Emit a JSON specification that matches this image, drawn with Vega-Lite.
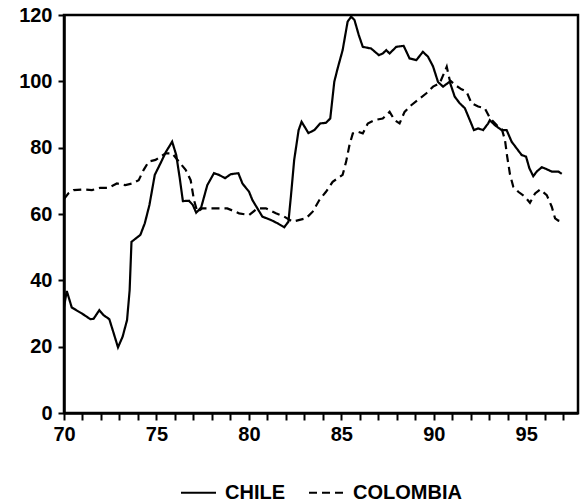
{
  "$schema": "https://vega.github.io/schema/vega-lite/v6.json",
  "description": "Chile and Colombia index, 1970-1997",
  "autosize": "none",
  "padding": {"left": 64, "top": 15, "right": 2, "bottom": 89},
  "width": 514,
  "height": 398,
  "data": {
    "values": [
      {"year": 70.0, "country": "CHILE", "value": 32},
      {"year": 70.15, "country": "CHILE", "value": 36.8},
      {"year": 70.42, "country": "CHILE", "value": 31.8},
      {"year": 70.97, "country": "CHILE", "value": 30},
      {"year": 71.42, "country": "CHILE", "value": 28.3},
      {"year": 71.6, "country": "CHILE", "value": 28.4},
      {"year": 71.91, "country": "CHILE", "value": 31},
      {"year": 72.14, "country": "CHILE", "value": 29.5},
      {"year": 72.45, "country": "CHILE", "value": 28.3},
      {"year": 72.69, "country": "CHILE", "value": 24},
      {"year": 72.92, "country": "CHILE", "value": 19.8},
      {"year": 73.17, "country": "CHILE", "value": 23},
      {"year": 73.41, "country": "CHILE", "value": 28},
      {"year": 73.55, "country": "CHILE", "value": 37},
      {"year": 73.65, "country": "CHILE", "value": 51.6},
      {"year": 73.9, "country": "CHILE", "value": 52.7},
      {"year": 74.13, "country": "CHILE", "value": 53.7},
      {"year": 74.37, "country": "CHILE", "value": 57.2},
      {"year": 74.62, "country": "CHILE", "value": 62.7},
      {"year": 74.91, "country": "CHILE", "value": 71.8},
      {"year": 75.22, "country": "CHILE", "value": 75.3},
      {"year": 75.52, "country": "CHILE", "value": 78.8},
      {"year": 75.85, "country": "CHILE", "value": 81.8},
      {"year": 76.07, "country": "CHILE", "value": 77.8},
      {"year": 76.25, "country": "CHILE", "value": 71.2},
      {"year": 76.43, "country": "CHILE", "value": 63.9},
      {"year": 76.76, "country": "CHILE", "value": 64},
      {"year": 76.97, "country": "CHILE", "value": 62.7},
      {"year": 77.15, "country": "CHILE", "value": 60.4},
      {"year": 77.42, "country": "CHILE", "value": 62},
      {"year": 77.75, "country": "CHILE", "value": 68.7},
      {"year": 78.11, "country": "CHILE", "value": 72.3},
      {"year": 78.38, "country": "CHILE", "value": 71.8},
      {"year": 78.71, "country": "CHILE", "value": 70.8},
      {"year": 79.02, "country": "CHILE", "value": 72},
      {"year": 79.43, "country": "CHILE", "value": 72.3},
      {"year": 79.65, "country": "CHILE", "value": 69.2},
      {"year": 80.01, "country": "CHILE", "value": 66.7},
      {"year": 80.19, "country": "CHILE", "value": 64.2},
      {"year": 80.46, "country": "CHILE", "value": 61.7},
      {"year": 80.73, "country": "CHILE", "value": 59.2},
      {"year": 81.19, "country": "CHILE", "value": 58.2},
      {"year": 81.55, "country": "CHILE", "value": 57.2},
      {"year": 81.91, "country": "CHILE", "value": 56},
      {"year": 82.14, "country": "CHILE", "value": 57.7},
      {"year": 82.27, "country": "CHILE", "value": 65.2},
      {"year": 82.45, "country": "CHILE", "value": 76.3},
      {"year": 82.69, "country": "CHILE", "value": 85.3},
      {"year": 82.85, "country": "CHILE", "value": 87.8},
      {"year": 83.22, "country": "CHILE", "value": 84.4},
      {"year": 83.54, "country": "CHILE", "value": 85.3},
      {"year": 83.85, "country": "CHILE", "value": 87.3},
      {"year": 84.17, "country": "CHILE", "value": 87.5},
      {"year": 84.4, "country": "CHILE", "value": 88.8},
      {"year": 84.62, "country": "CHILE", "value": 99.9},
      {"year": 84.8, "country": "CHILE", "value": 103.9},
      {"year": 85.07, "country": "CHILE", "value": 109.4},
      {"year": 85.34, "country": "CHILE", "value": 118},
      {"year": 85.53, "country": "CHILE", "value": 119.5},
      {"year": 85.71, "country": "CHILE", "value": 118.5},
      {"year": 85.94, "country": "CHILE", "value": 114},
      {"year": 86.16, "country": "CHILE", "value": 110.4},
      {"year": 86.61, "country": "CHILE", "value": 109.9},
      {"year": 87.03, "country": "CHILE", "value": 107.9},
      {"year": 87.24, "country": "CHILE", "value": 108.4},
      {"year": 87.43, "country": "CHILE", "value": 109.4},
      {"year": 87.61, "country": "CHILE", "value": 108.4},
      {"year": 87.97, "country": "CHILE", "value": 110.4},
      {"year": 88.37, "country": "CHILE", "value": 110.7},
      {"year": 88.69, "country": "CHILE", "value": 106.9},
      {"year": 89.06, "country": "CHILE", "value": 106.4},
      {"year": 89.41, "country": "CHILE", "value": 108.9},
      {"year": 89.69, "country": "CHILE", "value": 107.4},
      {"year": 89.96, "country": "CHILE", "value": 104.5},
      {"year": 90.23, "country": "CHILE", "value": 99.8},
      {"year": 90.5, "country": "CHILE", "value": 98.4},
      {"year": 90.86, "country": "CHILE", "value": 99.9},
      {"year": 91.13, "country": "CHILE", "value": 95.4},
      {"year": 91.4, "country": "CHILE", "value": 93.4},
      {"year": 91.68, "country": "CHILE", "value": 91.9},
      {"year": 91.95, "country": "CHILE", "value": 88.3},
      {"year": 92.17, "country": "CHILE", "value": 85.3},
      {"year": 92.4, "country": "CHILE", "value": 85.8},
      {"year": 92.67, "country": "CHILE", "value": 85.3},
      {"year": 92.94, "country": "CHILE", "value": 87.3},
      {"year": 93.03, "country": "CHILE", "value": 88.3},
      {"year": 93.3, "country": "CHILE", "value": 86.8},
      {"year": 93.67, "country": "CHILE", "value": 85.3},
      {"year": 93.94, "country": "CHILE", "value": 85.3},
      {"year": 94.21, "country": "CHILE", "value": 81.8},
      {"year": 94.48, "country": "CHILE", "value": 79.8},
      {"year": 94.75, "country": "CHILE", "value": 77.8},
      {"year": 94.99, "country": "CHILE", "value": 77.3},
      {"year": 95.17, "country": "CHILE", "value": 73.8},
      {"year": 95.38, "country": "CHILE", "value": 71.4},
      {"year": 95.57, "country": "CHILE", "value": 72.8},
      {"year": 95.84, "country": "CHILE", "value": 74.1},
      {"year": 96.11, "country": "CHILE", "value": 73.5},
      {"year": 96.38, "country": "CHILE", "value": 72.8},
      {"year": 96.74, "country": "CHILE", "value": 72.8},
      {"year": 96.92, "country": "CHILE", "value": 72.1},
      {"year": 70.0, "country": "COLOMBIA", "value": 64.5},
      {"year": 70.24, "country": "COLOMBIA", "value": 66.2},
      {"year": 70.52, "country": "COLOMBIA", "value": 67.2},
      {"year": 71.06, "country": "COLOMBIA", "value": 67.4},
      {"year": 71.51, "country": "COLOMBIA", "value": 67.2},
      {"year": 71.96, "country": "COLOMBIA", "value": 67.9},
      {"year": 72.41, "country": "COLOMBIA", "value": 67.9},
      {"year": 72.86, "country": "COLOMBIA", "value": 69.2},
      {"year": 73.32, "country": "COLOMBIA", "value": 68.7},
      {"year": 73.68, "country": "COLOMBIA", "value": 69.2},
      {"year": 74.04, "country": "COLOMBIA", "value": 70.2},
      {"year": 74.31, "country": "COLOMBIA", "value": 73.3},
      {"year": 74.58, "country": "COLOMBIA", "value": 75.8},
      {"year": 74.95, "country": "COLOMBIA", "value": 76.3},
      {"year": 75.22, "country": "COLOMBIA", "value": 77.3},
      {"year": 75.49, "country": "COLOMBIA", "value": 78.3},
      {"year": 75.85, "country": "COLOMBIA", "value": 78.3},
      {"year": 76.21, "country": "COLOMBIA", "value": 75.8},
      {"year": 76.58, "country": "COLOMBIA", "value": 73.3},
      {"year": 76.85, "country": "COLOMBIA", "value": 70.2},
      {"year": 77.03, "country": "COLOMBIA", "value": 64.2},
      {"year": 77.21, "country": "COLOMBIA", "value": 60.7},
      {"year": 77.48, "country": "COLOMBIA", "value": 61.7},
      {"year": 78.02, "country": "COLOMBIA", "value": 61.7},
      {"year": 78.83, "country": "COLOMBIA", "value": 61.7},
      {"year": 79.47, "country": "COLOMBIA", "value": 60.2},
      {"year": 80.01, "country": "COLOMBIA", "value": 59.7},
      {"year": 80.46, "country": "COLOMBIA", "value": 61.7},
      {"year": 80.92, "country": "COLOMBIA", "value": 61.7},
      {"year": 81.46, "country": "COLOMBIA", "value": 60.2},
      {"year": 81.91, "country": "COLOMBIA", "value": 59.2},
      {"year": 82.36, "country": "COLOMBIA", "value": 57.7},
      {"year": 83.09, "country": "COLOMBIA", "value": 58.7},
      {"year": 83.45, "country": "COLOMBIA", "value": 60.7},
      {"year": 83.81, "country": "COLOMBIA", "value": 64.2},
      {"year": 84.17, "country": "COLOMBIA", "value": 66.7},
      {"year": 84.53, "country": "COLOMBIA", "value": 69.7},
      {"year": 85.07, "country": "COLOMBIA", "value": 71.8},
      {"year": 85.26, "country": "COLOMBIA", "value": 75.8},
      {"year": 85.44, "country": "COLOMBIA", "value": 80.8},
      {"year": 85.62, "country": "COLOMBIA", "value": 84.3},
      {"year": 85.89, "country": "COLOMBIA", "value": 84.8},
      {"year": 86.16, "country": "COLOMBIA", "value": 84.3},
      {"year": 86.43, "country": "COLOMBIA", "value": 87.3},
      {"year": 86.79, "country": "COLOMBIA", "value": 88.3},
      {"year": 87.24, "country": "COLOMBIA", "value": 88.8},
      {"year": 87.61, "country": "COLOMBIA", "value": 90.8},
      {"year": 87.88, "country": "COLOMBIA", "value": 88.3},
      {"year": 88.15, "country": "COLOMBIA", "value": 87.3},
      {"year": 88.42, "country": "COLOMBIA", "value": 90.8},
      {"year": 88.78, "country": "COLOMBIA", "value": 92.8},
      {"year": 89.14, "country": "COLOMBIA", "value": 94.4},
      {"year": 89.6, "country": "COLOMBIA", "value": 96.4},
      {"year": 89.96, "country": "COLOMBIA", "value": 98.4},
      {"year": 90.32, "country": "COLOMBIA", "value": 99.4},
      {"year": 90.55, "country": "COLOMBIA", "value": 102.4},
      {"year": 90.7, "country": "COLOMBIA", "value": 104.4},
      {"year": 90.86, "country": "COLOMBIA", "value": 100.4},
      {"year": 91.13, "country": "COLOMBIA", "value": 99},
      {"year": 91.5, "country": "COLOMBIA", "value": 97.6},
      {"year": 91.77, "country": "COLOMBIA", "value": 96.9},
      {"year": 92.04, "country": "COLOMBIA", "value": 93.4},
      {"year": 92.4, "country": "COLOMBIA", "value": 92.4},
      {"year": 92.76, "country": "COLOMBIA", "value": 91.9},
      {"year": 93.03, "country": "COLOMBIA", "value": 89},
      {"year": 93.4, "country": "COLOMBIA", "value": 86.8},
      {"year": 93.67, "country": "COLOMBIA", "value": 85.8},
      {"year": 93.85, "country": "COLOMBIA", "value": 82.3},
      {"year": 93.97, "country": "COLOMBIA", "value": 77.3},
      {"year": 94.12, "country": "COLOMBIA", "value": 72},
      {"year": 94.3, "country": "COLOMBIA", "value": 68.2},
      {"year": 94.57, "country": "COLOMBIA", "value": 66.7},
      {"year": 94.93, "country": "COLOMBIA", "value": 65.2},
      {"year": 95.2, "country": "COLOMBIA", "value": 63.4},
      {"year": 95.48, "country": "COLOMBIA", "value": 66.2},
      {"year": 95.75, "country": "COLOMBIA", "value": 67.4},
      {"year": 96.11, "country": "COLOMBIA", "value": 65.7},
      {"year": 96.38, "country": "COLOMBIA", "value": 62.2},
      {"year": 96.56, "country": "COLOMBIA", "value": 58.7},
      {"year": 96.74, "country": "COLOMBIA", "value": 58},
      {"year": 96.92, "country": "COLOMBIA", "value": 57.7}
    ]
  },
  "mark": {"type": "line", "strokeWidth": 2.2, "color": "black", "clip": true},
  "encoding": {
    "x": {
      "field": "year",
      "type": "quantitative",
      "title": null,
      "scale": {"domain": [70, 97.8], "nice": false, "zero": false},
      "axis": {
        "values": [70, 71, 72, 73, 74, 75, 76, 77, 78, 79, 80, 81, 82, 83, 84, 85, 86, 87, 88, 89, 90, 91, 92, 93, 94, 95, 96, 97],
        "labelExpr": "datum.value % 5 === 0 ? datum.label : ''",
        "labelFlush": false,
        "tickSize": 7,
        "labelPadding": 4,
        "grid": false
      }
    },
    "y": {
      "field": "value",
      "type": "quantitative",
      "title": null,
      "scale": {"domain": [0, 120], "nice": false},
      "axis": {
        "values": [0, 20, 40, 60, 80, 100, 120],
        "labelFlush": false,
        "tickSize": 6,
        "labelPadding": 6,
        "grid": false
      }
    },
    "strokeDash": {
      "field": "country",
      "type": "nominal",
      "scale": {"domain": ["CHILE", "COLOMBIA"], "range": [[1, 0], [8, 5]]},
      "legend": {
        "title": null,
        "orient": "none",
        "direction": "horizontal",
        "legendX": 116,
        "legendY": 459,
        "symbolType": "stroke",
        "symbolSize": 1225,
        "symbolStrokeWidth": 2,
        "symbolStrokeColor": "black",
        "labelFontSize": 20,
        "labelOffset": 8,
        "columnPadding": 20
      }
    }
  },
  "config": {
    "view": {"stroke": "black", "strokeWidth": 2.5},
    "font": "Liberation Sans",
    "axis": {
      "domainColor": "black",
      "domainWidth": 2.5,
      "tickColor": "black",
      "tickWidth": 2,
      "labelColor": "black",
      "labelFont": "Liberation Sans",
      "labelFontWeight": "bold",
      "labelFontSize": 20
    },
    "legend": {
      "labelColor": "black",
      "labelFont": "Liberation Sans",
      "labelFontWeight": "bold"
    }
  }
}
